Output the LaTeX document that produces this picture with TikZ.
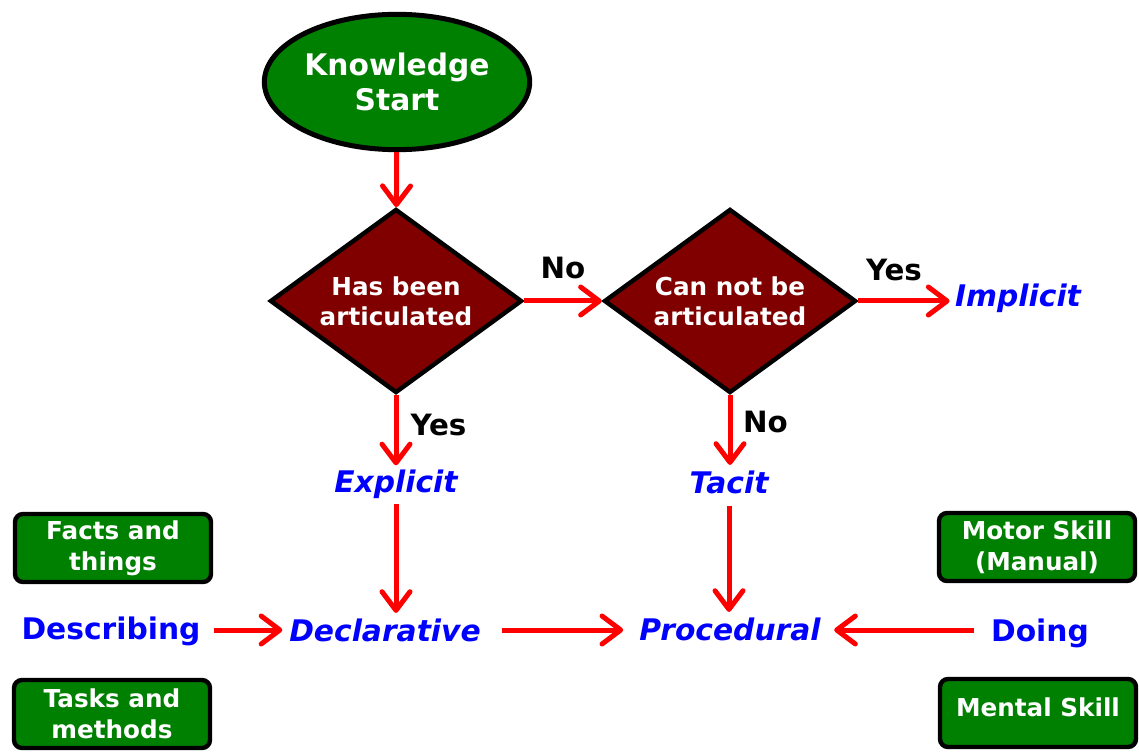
\documentclass[tikz,border=0pt]{standalone}
\usepackage{fontspec}
\setmainfont{DejaVu Sans}
\usetikzlibrary{shapes.geometric,arrows.meta}
\definecolor{kgreen}{RGB}{0,128,0}
\definecolor{kmaroon}{RGB}{128,0,0}
\definecolor{kblue}{RGB}{0,0,255}
\definecolor{kred}{RGB}{255,0,0}
\begin{document}
\begin{tikzpicture}[x=0.75pt,y=-0.75pt,
  startnode/.style={ellipse, draw=black, line width=3.75pt, fill=kgreen, text=white, minimum width=199pt, minimum height=101.5pt, inner sep=0pt, align=center, font=\fontsize{22.3}{26.5}\selectfont\bfseries},
  decision/.style={diamond, aspect=1.36, draw=black, line width=3.3pt, fill=kmaroon, text=white, minimum width=189pt, minimum height=138pt, inner sep=0pt, align=center, font=\fontsize{18.5}{22.5}\selectfont\bfseries},
  greenbox/.style={rectangle, rounded corners=6pt, draw=black, line width=3.3pt, fill=kgreen, text=white, minimum width=147pt, minimum height=51pt, inner sep=0pt, align=center, font=\fontsize{18.5}{23}\selectfont\bfseries},
  term/.style={text=kblue, inner sep=0pt, font=\fontsize{22.3}{26}\selectfont\bfseries\itshape},
  verb/.style={text=kblue, inner sep=0pt, font=\fontsize{22.3}{26}\selectfont\bfseries},
  answer/.style={text=black, inner sep=0pt, font=\fontsize{22}{26}\selectfont\bfseries},
  flow/.style={draw=kred, line width=3.75pt, -{Straight Barb[length=14pt,width=21pt,round]}},
]
\useasboundingbox (0,0) rectangle (1139,752);
\node[startnode] (start) at (397,82) {Knowledge\\Start};
\node[decision] (d1) at (396,301) {Has been\\articulated};
\node[decision] (d2) at (730,301) {Can not be\\articulated};
\node[term] (implicit) at (1018,298) {Implicit};
\node[term] (explicit) at (396,484) {Explicit};
\node[term] (tacit) at (729,482) {Tacit};
\node[term] (declarative) at (385,630) {Declarative};
\node[term] (procedural) at (730,629) {Procedural};
\node[verb] (describing) at (111,631) {Describing};
\node[verb] (doing) at (1040,633) {Doing};
\node[greenbox] (facts) at (113,548) {Facts and\\things};
\node[greenbox] (tasks) at (112,714) {Tasks and\\methods};
\node[greenbox] (motor) at (1037,547) {Motor Skill\\(Manual)};
\node[greenbox] (mental) at (1038,713) {\raisebox{4.5pt}[\height][\depth]{Mental Skill}};

\draw[flow] (start) -- (d1);
\draw[flow] (d1.east) -- node[answer, above=15pt]{No} (d2.west);
\draw[flow, shorten >=4pt] (d2.east) -- node[answer, pos=0.37, above=13pt]{Yes} (d2.east -| implicit.west);
\draw[flow, shorten >=3pt] (d1.south) -- node[answer, pos=0.4, right=9pt]{Yes} (d1.south |- explicit.north);
\draw[flow, shorten >=4pt] (d2.south) -- node[answer, pos=0.36, right=8pt]{No} (d2.south |- tacit.north);
\draw[flow, shorten <=4pt, shorten >=4pt] (explicit.south) -- (explicit.south |- declarative.north);
\draw[flow, shorten <=9pt, shorten >=4pt] (tacit.south) -- (tacit.south |- procedural.north);
\draw[flow, shorten <=10pt, shorten >=5pt] (describing.east |- 0,630) -- (declarative.west |- 0,630);
\draw[flow, shorten <=16pt, shorten >=12pt] (declarative.east |- 0,630) -- (procedural.west |- 0,630);
\draw[flow, shorten <=13pt, shorten >=10pt] (doing.west |- 0,630) -- (procedural.east |- 0,630);
\end{tikzpicture}
\end{document}
